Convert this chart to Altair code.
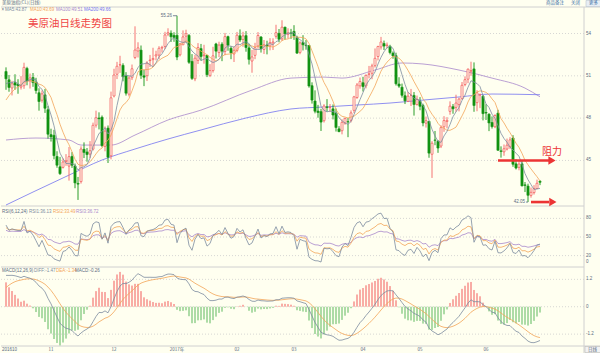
import altair as alt
import pandas as pd
import numpy as np

# ---------------- data ----------------
# closes before the visible window (used only to warm up the indicators)
pre_close = [45.74, 46.58, 46.79, 48.22, 48.52, 47.05, 48.10, 46.77, 47.33, 47.64, 46.98, 46.35, 44.70,
             43.16, 44.44, 44.83, 45.50, 47.62, 45.88, 46.29, 44.90, 43.58, 43.91, 43.03, 43.30, 43.44,
             45.34, 46.32, 44.48, 45.93, 44.67, 47.05, 47.83, 48.24,
             48.81, 48.69, 49.83, 50.44, 49.81, 51.35]

opens = [51.30, 50.72, 50.14, 50.51, 50.40, 50.20, 50.30, 51.52, 50.64, 50.88, 50.55, 49.80, 49.27, 49.65, 48.60,
         46.83, 46.78, 45.28, 44.55, 44.51, 44.92, 44.60, 45.28, 44.61, 43.37, 43.50, 45.79, 45.60, 45.45, 45.80, 47.50, 48.01, 48.06, 46.00, 47.29, 45.33,
         49.57, 51.11, 51.77, 51.74, 51.00, 49.70, 50.87, 52.30, 52.76, 52.82, 51.00, 51.01, 52.08, 52.15, 52.41, 52.47, 52.97, 53.08, 53.96, 54.02, 53.87,
         53.87, 52.49, 53.20, 53.81, 53.86, 52.02, 50.79, 52.09, 52.93, 52.43, 52.45, 51.03, 51.37, 53.26, 52.65, 53.24, 52.73, 53.78, 52.95, 52.55,
         52.80, 53.84, 53.58, 53.85, 52.98, 52.05, 52.45, 53.11, 53.75, 52.87, 53.19, 53.12, 53.33, 53.80, 54.01, 53.62, 54.45, 53.94, 54.04,
         54.15, 53.72, 52.66, 53.37, 53.17, 53.15, 50.30, 49.21, 48.50, 48.46, 47.82, 48.80, 48.76, 48.66, 48.36, 47.24, 47.11, 47.65, 47.75, 47.84, 48.55, 49.46, 50.29,
         50.51, 50.29, 51.09, 51.18, 51.72, 52.37, 53.05, 53.29, 53.14, 53.09, 52.61, 52.43, 50.42, 50.19, 49.59, 49.19, 49.62, 49.61, 48.96,
         49.19, 48.89, 47.64, 47.77, 45.44, 46.45, 46.36, 46.02, 47.39, 47.76, 48.48, 48.81, 48.76, 48.96, 49.38, 50.38, 50.76, 51.34, 51.49, 49.10, 49.64, 49.55,
         48.40, 48.28, 47.69, 47.39, 48.35, 45.68, 45.61, 45.81, 45.97, 46.59, 44.76, 44.51, 44.76, 43.27, 43.18, 42.52, 42.72, 43.01, 43.52]
highs = [51.60, 51.06, 50.64, 51.11, 50.76, 50.98, 51.93, 51.64, 51.16, 51.20, 50.86, 50.12, 49.96, 50.07, 48.87,
         47.25, 47.17, 45.65, 45.25, 45.15, 45.45, 45.95, 45.59, 44.78, 43.83, 46.00, 46.28, 45.88, 46.37, 47.68, 48.53, 48.41, 48.19, 47.41, 47.48, 49.88,
         51.50, 51.99, 52.42, 51.89, 51.26, 51.00, 51.80, 54.51, 53.38, 53.15, 51.43, 52.04, 52.48, 52.99, 52.78, 53.10, 53.13, 54.12, 54.37, 54.22, 54.09,
         55.26, 53.33, 54.22, 54.27, 53.96, 52.54, 52.49, 53.32, 53.26, 53.20, 52.48, 51.83, 53.06, 53.34, 53.42, 53.38, 54.04, 53.85, 53.09, 53.08,
         54.11, 54.29, 54.12, 54.17, 53.27, 52.84, 53.34, 54.10, 53.82, 53.54, 53.49, 53.67, 53.66, 54.62, 54.32, 54.94, 54.48, 54.37, 54.33,
         54.59, 53.84, 53.45, 53.88, 53.54, 53.18, 50.54, 49.97, 48.94, 48.66, 48.99, 49.35, 49.00, 48.97, 48.68, 47.43, 47.92, 48.04, 48.01, 48.55, 49.58, 50.49, 50.88,
         50.93, 51.10, 51.70, 51.86, 52.94, 53.13, 53.76, 53.50, 53.36, 53.20, 52.73, 52.64, 50.90, 50.45, 49.89, 49.85, 50.07, 49.85, 49.60,
         49.49, 49.02, 48.11, 47.80, 46.37, 47.09, 46.43, 47.49, 48.14, 48.07, 49.19, 49.00, 49.66, 49.45, 50.56, 50.96, 51.52, 52.00, 51.95, 49.98, 49.75, 49.64,
         48.99, 48.34, 48.12, 48.27, 48.59, 46.00, 46.13, 46.55, 46.65, 46.79, 45.08, 44.99, 44.98, 43.47, 43.35, 43.08, 43.25, 43.64, 43.60]
lows = [50.01, 49.87, 49.61, 50.01, 49.73, 50.03, 50.08, 50.33, 50.10, 50.22, 49.73, 48.53, 49.10, 48.37, 46.55,
        46.34, 45.08, 44.48, 43.97, 44.43, 44.62, 43.57, 44.47, 43.03, 42.20, 43.36, 45.17, 44.91, 45.18, 45.70, 47.33, 47.20, 45.94, 45.65, 44.82, 45.08,
        49.47, 50.77, 51.21, 50.61, 49.60, 49.54, 50.70, 52.18, 52.30, 50.78, 50.27, 50.63, 51.63, 51.71, 52.10, 52.19, 52.65, 52.89, 53.81, 53.40, 53.41,
        52.11, 52.38, 53.20, 53.33, 51.85, 50.71, 50.62, 51.84, 52.08, 51.86, 50.91, 50.91, 51.23, 52.23, 52.33, 52.04, 52.46, 52.78, 52.18, 51.98,
        52.67, 53.40, 53.06, 52.71, 51.80, 51.22, 52.18, 52.93, 52.65, 52.55, 52.52, 52.81, 52.83, 53.63, 53.38, 53.48, 53.56, 53.65, 53.62,
        53.55, 52.56, 52.53, 52.80, 52.85, 50.16, 49.03, 48.34, 48.03, 47.09, 47.69, 48.46, 48.43, 47.91, 47.05, 47.01, 46.85, 47.53, 46.65, 47.70, 48.36, 49.37, 50.09,
        49.89, 50.11, 50.82, 50.76, 51.59, 52.09, 52.86, 52.83, 52.95, 52.52, 52.21, 50.31, 50.15, 49.45, 49.00, 49.14, 48.86, 48.18, 48.90,
        48.56, 47.42, 47.33, 45.19, 43.76, 46.08, 45.54, 45.88, 47.03, 47.28, 48.24, 48.31, 48.45, 48.48, 49.31, 50.26, 50.48, 51.00, 48.45, 48.49, 48.71, 47.84,
        47.87, 47.08, 47.26, 47.29, 45.70, 45.20, 45.33, 45.71, 45.82, 44.55, 44.36, 44.30, 43.16, 42.76, 42.05, 42.36, 42.58, 42.97, 43.25]
closes = [50.79, 50.18, 50.44, 50.35, 50.29, 50.29, 51.60, 50.63, 50.85, 50.52, 49.96, 49.18, 49.72, 48.70, 46.86,
          46.67, 45.34, 44.66, 44.07, 44.89, 44.98, 45.27, 44.66, 43.41, 43.32, 45.81, 45.57, 45.42, 45.69, 47.49, 48.03, 47.96, 46.06, 47.08, 45.23, 49.44,
          51.06, 51.68, 51.79, 50.93, 49.77, 50.84, 51.50, 52.83, 52.98, 51.04, 50.90, 51.90, 52.12, 52.23, 52.49, 52.95, 53.02, 53.90, 54.06, 53.77, 53.72,
          52.33, 53.26, 53.76, 53.99, 51.96, 50.82, 52.25, 53.01, 52.37, 52.48, 51.08, 51.37, 52.42, 52.75, 53.18, 52.75, 53.78, 53.17, 52.63, 52.81,
          53.88, 53.54, 53.83, 53.01, 52.17, 52.34, 53.00, 53.86, 52.93, 53.20, 53.11, 53.36, 53.40, 54.06, 53.59, 54.45, 53.99, 54.05, 54.01,
          53.83, 52.61, 53.33, 53.20, 53.14, 50.28, 49.28, 48.49, 48.40, 47.72, 48.86, 48.75, 48.78, 48.22, 47.34, 47.04, 47.70, 47.97, 47.73, 48.37, 49.51, 50.35, 50.60,
          50.24, 51.03, 51.15, 51.70, 52.24, 53.08, 53.40, 53.11, 53.18, 52.65, 52.41, 50.44, 50.27, 49.62, 49.23, 49.56, 49.62, 48.97, 49.33,
          48.84, 47.66, 47.82, 45.52, 46.22, 46.43, 45.88, 47.33, 47.83, 47.84, 48.85, 48.66, 49.07, 49.35, 50.33, 50.73, 51.47, 51.36, 48.90, 49.80, 49.66, 48.32,
          48.36, 47.66, 47.40, 48.19, 45.72, 45.64, 45.83, 46.08, 46.46, 44.73, 44.46, 44.74, 43.20, 43.23, 42.53, 42.74, 43.01, 43.38, 43.45]

# long moving averages (bar index, value)
ma100_idx = [0, 10, 21, 25, 35, 43, 54, 65, 82, 95, 106, 112, 123, 132, 139, 151, 162, 173, 178]
ma100_val = [46.45, 46.59, 46.45, 46.09, 46.09, 46.80, 47.87, 48.57, 49.99, 50.84, 50.91, 50.84, 51.41, 51.91,
             51.84, 51.41, 50.84, 50.13, 49.51]
ma200_idx = [0, 9, 21, 32, 43, 54, 65, 80, 95, 106, 117, 128, 139, 151, 162, 178]
ma200_val = [41.84, 42.76, 43.96, 45.03, 45.81, 46.52, 47.16, 48.01, 48.65, 48.79, 48.93, 49.07, 49.28, 49.50,
             49.71, 49.66]

month_idx = [15, 36, 57, 77, 96, 119, 138, 160]
month_lbl = ["11", "12", "2017年", "02", "03", "04", "05", "06"]
first_lbl = "201610"

main_ticks = [54, 51, 48, 45]
rsi_ticks = [80, 50, 20]
macd_ticks = [1.2, 0, -1.2]
macd_tick_lbl = ["1.2", "0", "-1.2"]

high_mark_idx, high_mark_val = 57, 55.26
low_mark_idx, low_mark_val = 174, 42.05
resist_level = 45.0
arrow_start = [164, 175]
arrow_end = [181, 181]
arrow_head = [182, 182.3]
arrow_level = [45.0, 42.05]

# ---------------- derived tables ----------------
NP = len(pre_close)
n = len(closes)
cdf = pd.DataFrame({"i": np.arange(n), "o": opens, "h": highs, "l": lows, "c": closes})
cdf["up"] = cdf["c"] >= cdf["o"]

allc = pd.Series(pre_close + closes, dtype=float)
ma5 = allc.rolling(5).mean().iloc[NP:].to_numpy()
ma10 = allc.rolling(10).mean().iloc[NP:].to_numpy()
d = allc.diff().fillna(0.0)


def wilder(s, k):
    return s.ewm(alpha=1.0 / k, adjust=False).mean()


def rsi(k):
    return (100 * wilder(d.clip(lower=0), k) / wilder(d.abs(), k).replace(0, np.nan)).iloc[NP:].to_numpy()


e12 = allc.ewm(span=12, adjust=False).mean()
e26 = allc.ewm(span=26, adjust=False).mean()
dif = e12 - e26
dea = dif.ewm(span=9, adjust=False).mean()
macd = 2 * (dif - dea)

ind = pd.DataFrame({"i": np.arange(n), "ma5": ma5, "ma10": ma10,
                    "r1": rsi(6), "r2": rsi(12), "r3": rsi(24),
                    "dif": dif.iloc[NP:].to_numpy(), "dea": dea.iloc[NP:].to_numpy(),
                    "macd": macd.iloc[NP:].to_numpy(), "z": 0.0})
long_ma = pd.DataFrame({"i": ma100_idx, "v": ma100_val})
long_ma2 = pd.DataFrame({"i": ma200_idx, "v": ma200_val})

# ---------------- style ----------------
BG = "#FFFFF0"
TXT = "#5a6a80"
C1 = "#7c8ca0"
C2 = "#f3a458"
C3 = "#a888cc"
C4 = "#7373f0"
UP = "#f46464"
DN = "#129212"
GRID = "#cdcdcd"
SEP = "#d0d0d0"
RED = "#ec3434"
FONT = "Liberation Sans"
CJK = "Noto Sans CJK SC"
HS = 4.5   # small header font size
LW = 0.8   # indicator line width

xs = alt.Scale(domain=[-5 / 3, 192 + 2 / 3], range=[0, 583], padding=0, nice=False, zero=False)
main_s = alt.Scale(domain=[41.77, 55.88], range=[206, 7], nice=False, zero=False)
rsi_s = alt.Scale(domain=[0, 100], range=[268, 206], nice=False, zero=False, clamp=True)
macd_s = alt.Scale(domain=[-1.72, 1.74], range=[346, 267], nice=False, zero=False, clamp=True)


def X(f):
    return alt.X(f, type="quantitative", scale=xs, axis=None)


def Y(f, s):
    return alt.Y(f, type="quantitative", scale=s, axis=None)


one = pd.DataFrame({"a": [0]})
layers = []


def ptext(txt, x, y, color=TXT, size=HS, align="left", font=FONT):
    layers.append(alt.Chart(one).mark_text(text=txt, align=align, baseline="middle", fontSize=size,
                                           font=font, color=color)
                  .encode(x=alt.value(x), y=alt.value(y)))


def pline(x1, x2, y1, y2, color=SEP, w=1):
    layers.append(alt.Chart(one).mark_rule(color=color, strokeWidth=w)
                  .encode(x=alt.value(x1), x2=alt.value(x2), y=alt.value(y1), y2=alt.value(y2)))


# gridlines
for ticks, s in [(main_ticks, main_s), (rsi_ticks, rsi_s), (macd_ticks, macd_s)]:
    g = pd.DataFrame({"v": ticks})
    layers.append(alt.Chart(g).mark_rule(color=GRID, strokeWidth=0.8, strokeDash=[1, 2])
                  .encode(y=Y("v", s), x=alt.value(0), x2=alt.value(583)))

# frame lines
pline(0, 600, 7, 7)
pline(0, 583, 206, 206)
pline(0, 583, 267, 267)
pline(0, 600, 346, 346)
pline(583, 583, 7, 353)

# long MAs
layers.append(alt.Chart(long_ma).mark_line(color=C3, strokeWidth=LW, interpolate="monotone")
              .encode(x=X("i"), y=Y("v", main_s)))
layers.append(alt.Chart(long_ma2).mark_line(color=C4, strokeWidth=LW, interpolate="monotone")
              .encode(x=X("i"), y=Y("v", main_s)))

# candles
upd = cdf[cdf["up"]]
dnd = cdf[~cdf["up"]]
layers.append(alt.Chart(upd).mark_rule(color=UP, strokeWidth=0.9)
              .encode(x=X("i"), y=Y("l", main_s), y2="h"))
layers.append(alt.Chart(dnd).mark_rule(color=DN, strokeWidth=0.9)
              .encode(x=X("i"), y=Y("l", main_s), y2="h"))
layers.append(alt.Chart(upd).mark_bar(width=2.0, fill=BG, stroke=UP, strokeWidth=0.8)
              .encode(x=X("i"), y=Y("o", main_s), y2="c"))
layers.append(alt.Chart(dnd).mark_bar(width=2.2, fill=DN, stroke=DN, strokeWidth=0.6)
              .encode(x=X("i"), y=Y("o", main_s), y2="c"))

# short MAs
layers.append(alt.Chart(ind).mark_line(color=C2, strokeWidth=LW).encode(x=X("i"), y=Y("ma10", main_s)))
layers.append(alt.Chart(ind).mark_line(color=C1, strokeWidth=LW).encode(x=X("i"), y=Y("ma5", main_s)))

# high / low markers
hm = pd.DataFrame({"i": [high_mark_idx], "v": [high_mark_val], "t": [f"{high_mark_val:.2f}"]})
lm = pd.DataFrame({"i": [low_mark_idx], "v": [low_mark_val], "t": [f"{low_mark_val:.2f}"]})
layers.append(alt.Chart(hm).mark_rule(color=TXT, strokeWidth=0.8, xOffset=-4, x2Offset=0)
              .encode(x=X("i"), x2="i", y=Y("v", main_s)))
layers.append(alt.Chart(hm).mark_text(align="right", baseline="middle", dx=-5, fontSize=HS, font=FONT, color=TXT)
              .encode(x=X("i"), y=Y("v", main_s), text="t"))
layers.append(alt.Chart(lm).mark_rule(color=TXT, strokeWidth=0.8, xOffset=-2, x2Offset=0)
              .encode(x=X("i"), x2="i", y=Y("v", main_s)))
layers.append(alt.Chart(lm).mark_text(align="right", baseline="middle", dx=-3, fontSize=HS, font=FONT, color=TXT)
              .encode(x=X("i"), y=Y("v", main_s), text="t"))

# resistance arrows
arr = pd.DataFrame({"a": arrow_start, "b": arrow_end, "h": arrow_head, "v": arrow_level})
layers.append(alt.Chart(arr).mark_rule(color=RED, strokeWidth=2.6)
              .encode(x=X("a"), x2="b", y=Y("v", main_s)))
layers.append(alt.Chart(arr).mark_point(shape="triangle-right", filled=True, color=RED, size=70, opacity=1)
              .encode(x=X("h"), y=Y("v", main_s)))
rl = pd.DataFrame({"i": [arrow_head[0]], "v": [resist_level]})
layers.append(alt.Chart(rl).mark_text(text="阻力", align="center", baseline="middle", dy=-8, dx=0,
                                      fontSize=10, font=CJK, color=RED)
              .encode(x=X("i"), y=Y("v", main_s)))

# RSI lines
for f, c in [("r3", C3), ("r2", C2), ("r1", C1)]:
    layers.append(alt.Chart(ind).mark_line(color=c, strokeWidth=LW).encode(x=X("i"), y=Y(f, rsi_s)))

# MACD
mp = ind[ind["macd"] >= 0]
mn = ind[ind["macd"] < 0]
layers.append(alt.Chart(mp).mark_rule(color="#f25a5a", strokeWidth=1)
              .encode(x=X("i"), y=Y("macd", macd_s), y2="z"))
layers.append(alt.Chart(mn).mark_rule(color="#5cb85c", strokeWidth=1)
              .encode(x=X("i"), y=Y("macd", macd_s), y2="z"))
layers.append(alt.Chart(ind).mark_line(color=C2, strokeWidth=LW).encode(x=X("i"), y=Y("dea", macd_s)))
layers.append(alt.Chart(ind).mark_line(color=C1, strokeWidth=LW).encode(x=X("i"), y=Y("dif", macd_s)))

# right-hand scale labels
for ticks, s in [(main_ticks, main_s), (rsi_ticks, rsi_s)]:
    g = pd.DataFrame({"v": ticks, "t": [str(t) for t in ticks]})
    layers.append(alt.Chart(g).mark_text(align="left", baseline="middle", fontSize=HS, font=FONT, color=TXT)
                  .encode(x=alt.value(585), y=Y("v", s), text="t"))
z0 = pd.DataFrame({"v": [0], "t": ["0"]})
layers.append(alt.Chart(z0).mark_text(align="left", baseline="middle", dy=-6, fontSize=HS, font=FONT, color=TXT)
              .encode(x=alt.value(585), y=Y("v", rsi_s), text="t"))
gm = pd.DataFrame({"v": macd_ticks, "t": macd_tick_lbl})
layers.append(alt.Chart(gm).mark_text(align="left", baseline="middle", fontSize=HS, font=FONT, color=TXT)
              .encode(x=alt.value(585), y=Y("v", macd_s), text="t"))

# month labels
ml = pd.DataFrame({"i": month_idx, "t": month_lbl})
layers.append(alt.Chart(ml).mark_text(align="center", baseline="middle", fontSize=HS, font=CJK, color=TXT)
              .encode(x=X("i"), y=alt.value(349.5), text="t"))
fl = pd.DataFrame({"i": [0], "t": [first_lbl]})
layers.append(alt.Chart(fl).mark_text(align="left", baseline="middle", dx=-4, fontSize=HS, font=FONT, color=TXT)
              .encode(x=X("i"), y=alt.value(349.5), text="t"))

# header texts
ptext("美原油指(CL)(日线)", 1, 3, size=HS, font=CJK)
ptext("商品备注", 545, 3, color="#3a6ea5", size=HS, font=CJK)
ptext("关闭", 570, 3, color="#3a6ea5", size=HS, font=CJK)
layers.append(alt.Chart(one).mark_rect(fill="#e8eef4", stroke="#b8c4d0", strokeWidth=0.6)
              .encode(x=alt.value(585), x2=alt.value(599.5), y=alt.value(0.5), y2=alt.value(6.5)))
ptext("更多", 588, 3, color="#3a6ea5", size=HS, font=CJK)
ptext("×", 0.5, 10, color=TXT)
ptext("MA5:43.87", 4, 10, color=C1)
ptext("MA10:43.69", 29, 10, color=C2)
ptext("MA100:49.51", 55, 10, color=C3)
ptext("MA200:49.66", 83, 10, color=C4)
ptext("美原油日线走势图", 27, 24, color="#ef4646", size=10.5, font=CJK)
ptext("RSI(6,12,24)", 1, 212, color=TXT)
ptext("RSI1:36.13", 28, 212, color=C1)
ptext("RSI2:33.49", 52, 212, color=C2)
ptext("RSI3:36.72", 75, 212, color=C3)
ptext("MACD(12,26,9)", 1, 270.5, color=TXT)
ptext("DIFF:-1.47", 33, 270.5, color=C1)
ptext("DEA:-1.34", 55, 270.5, color=C2)
ptext("MACD:-0.26", 74, 270.5, color=TXT)
layers.append(alt.Chart(one).mark_rect(fill="#f2f2f2", stroke="#b8b8b8", strokeWidth=0.6)
              .encode(x=alt.value(584), x2=alt.value(599.5), y=alt.value(346.5), y2=alt.value(352.5)))
ptext("日线", 587, 349.5, size=HS, font=CJK)

chart = (alt.layer(*layers)
         .resolve_scale(y="independent")
         .properties(width=600, height=353, padding={"left": 0, "top": 0, "right": 0, "bottom": 0},
                     autosize=alt.AutoSizeParams(type="fit", contains="padding"))
         .configure(background=BG)
         .configure_view(stroke=None))

chart.save("out.html", embed_options={"renderer": "svg", "actions": False})
